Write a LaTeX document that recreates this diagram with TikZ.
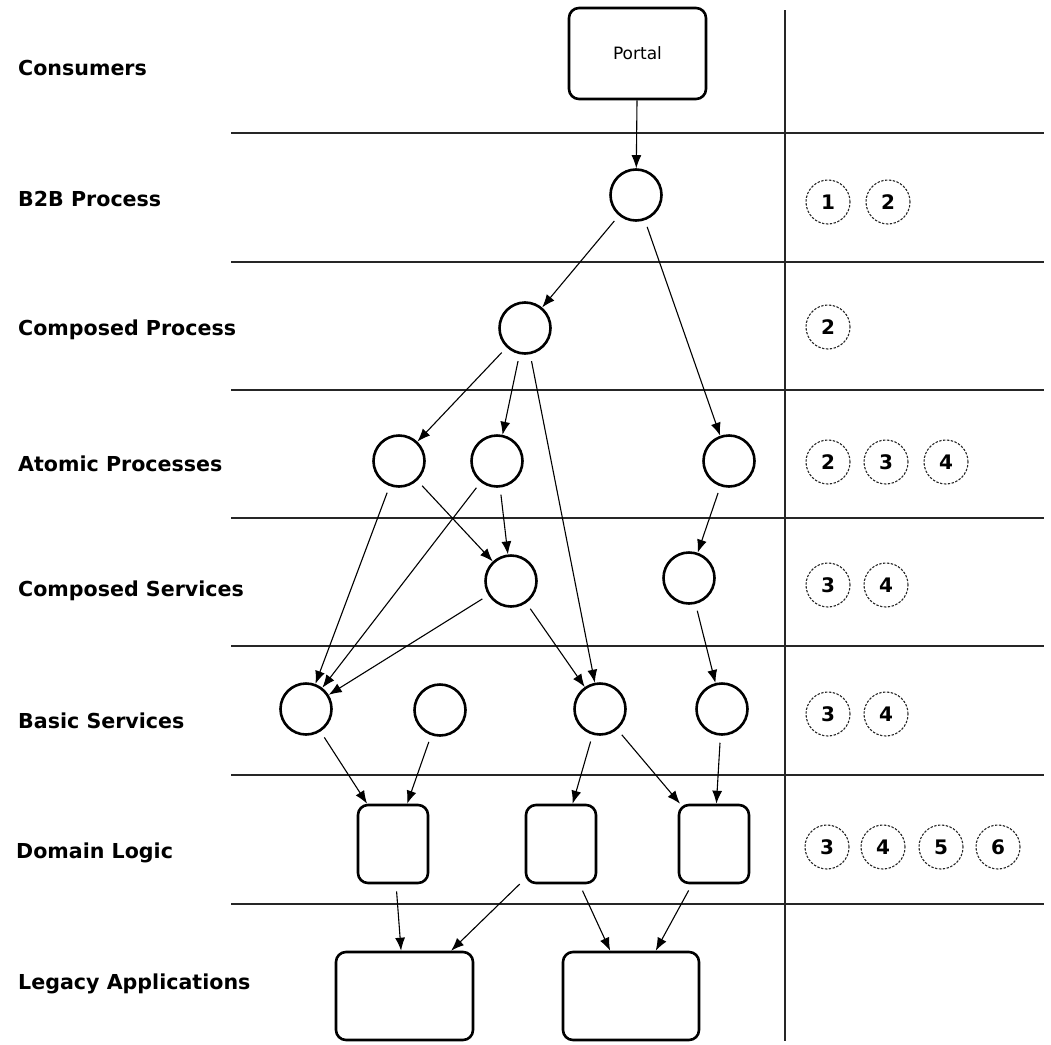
\documentclass[tikz,border=0pt]{standalone}
\usepackage{fontspec}
\setmainfont{DejaVu Sans}
\usetikzlibrary{arrows.meta}
\begin{document}
\begin{tikzpicture}[x=1pt,y=-1pt,
 lbl/.style={anchor=base west, font=\fontsize{20.6}{24}\selectfont\bfseries, inner sep=0},
 proc/.style={circle, draw, line width=2.6pt, minimum size=51pt, inner sep=0},
 boxn/.style={draw, rounded corners=10pt, line width=2.6pt, inner sep=0},
 num/.style={circle, draw=black!85, dash pattern=on 2.4pt off 1.5pt, line width=1.1pt, minimum size=44pt, inner sep=0, font=\fontsize{20}{24}\selectfont\bfseries},
 rule/.style={line width=1.4pt, draw=black!85},
 conn/.style={-{Latex[length=13pt,width=10pt]}, line width=1.1pt, shorten <=7pt}
]
\useasboundingbox (0,0) rectangle (1051,1044);

% rules
\foreach \yy in {133,262,390,518,646,775,904}
  \draw[rule] (231,\yy) -- (1044,\yy);
\draw[rule] (785,10) -- (785,1041);

% labels
\node[lbl] (l1) at (18,75) {Consumers};
\node[lbl] (l2) at (18,206) {B2B Process};
\node[lbl] (l3) at (18,335) {Composed Process};
\node[lbl] (l4) at (18,471) {Atomic Processes};
\node[lbl] (l5) at (18,596) {Composed Services};
\node[lbl] (l6) at (18,728) {Basic Services};
\node[lbl] (l7) at (16,858) {Domain Logic};
\node[lbl] (l8) at (18,989) {Legacy Applications};

% nodes
\node[boxn, minimum width=137pt, minimum height=91pt, font=\fontsize{17}{20}\selectfont] (portal) at (637.5,53.5) {\raisebox{1.5pt}{Portal}};
\node[proc] (b2b) at (636,195) {};
\node[proc] (cp) at (525,328) {};
\node[proc] (a1) at (399,461) {};
\node[proc] (a2) at (497,461) {};
\node[proc] (a3) at (729,461) {};
\node[proc] (cs1) at (511,581) {};
\node[proc] (cs2) at (689,578) {};
\node[proc] (bs1) at (306,709) {};
\node[proc] (bs2) at (440,710) {};
\node[proc] (bs3) at (600,709) {};
\node[proc] (bs4) at (722,709) {};
\node[boxn, minimum width=70pt, minimum height=78pt] (dl1) at (393,844) {};
\node[boxn, minimum width=70pt, minimum height=78pt] (dl2) at (561,844) {};
\node[boxn, minimum width=70pt, minimum height=78pt] (dl3) at (714,844) {};
\node[boxn, minimum width=137pt, minimum height=88pt] (la1) at (404.5,996) {};
\node[boxn, minimum width=136pt, minimum height=88pt] (la2) at (631,996) {};

% connectors
\draw[conn, shorten <=0pt] (portal) -- (b2b);
\draw[conn] (b2b) -- (cp);
\draw[conn] (b2b) -- (a3);
\draw[conn] (cp) -- (a1);
\draw[conn] (cp) -- (a2);
\draw[conn] (cp) -- (bs3);
\draw[conn] (a1) -- (bs1);
\draw[conn] (a1) -- (cs1);
\draw[conn] (a2) -- (cs1);
\draw[conn] (a2) -- (bs1);
\draw[conn] (a3) -- (cs2);
\draw[conn] (cs1) -- (bs1);
\draw[conn] (cs1) -- (bs3);
\draw[conn] (cs2) -- (bs4);
\draw[conn] (bs1) -- (dl1);
\draw[conn] (bs2) -- (dl1);
\draw[conn] (bs3) -- (dl2);
\draw[conn] (bs3) -- (dl3);
\draw[conn] (bs4) -- (dl3);
\draw[conn] (dl1) -- (la1);
\draw[conn] (dl2) -- (la1);
\draw[conn] (dl2) -- (la2);
\draw[conn] (dl3) -- (la2);

% level markers
\node[num] (m21) at (828,202) {1};
\node[num] (m22) at (888,202) {2};
\node[num] (m32) at (828,327) {2};
\node[num] (m42) at (828,462) {2};
\node[num] (m43) at (886,462) {3};
\node[num] (m44) at (946,462) {4};
\node[num] (m53) at (828,585) {3};
\node[num] (m54) at (886,585) {4};
\node[num] (m63) at (828,714) {3};
\node[num] (m64) at (886,714) {4};
\node[num] (m73) at (827,847) {3};
\node[num] (m74) at (883,847) {4};
\node[num] (m75) at (941,847) {5};
\node[num] (m76) at (998,847) {6};
\end{tikzpicture}
\end{document}
